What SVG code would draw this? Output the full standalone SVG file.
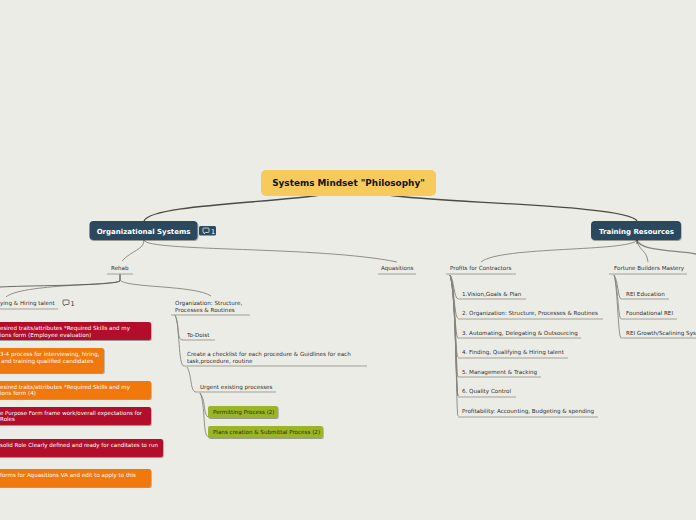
<svg xmlns="http://www.w3.org/2000/svg" width="696" height="520" viewBox="0 0 696 520">
<defs>
<filter id="sh" x="-5%" y="-10%" width="110%" height="130%"><feDropShadow dx="0.6" dy="1" stdDeviation="0.5" flood-color="#000" flood-opacity="0.35"/></filter>
<path id="bub" d="M0.8 0H5.2Q6 0 6 .8V3.7Q6 4.500 5.200 4.500H2.500L1 5.800V4.500H.8Q0 4.500 0 3.700V.8Q0 0 .8 0Z" fill="none" stroke-width=".7"/>
</defs>
<style>
text{font-family:"DejaVu Sans",Verdana,sans-serif;font-size:5.6px;fill:#2f2f2f}
.ln{fill:none;stroke:#85857c;stroke-width:0.9}
.ul{fill:none;stroke:#a0a098;stroke-width:1}
.dk{fill:none;stroke:#4a4a46;stroke-width:1.3}
.w{fill:#fff}
.red{fill:#b20a2c;filter:url(#sh)}
.org{fill:#f0780f;filter:url(#sh)}
.grn{fill:#9bb528;filter:url(#sh)}
.navy{fill:#2a4a5f;filter:url(#sh)}
.g{fill:#26300a}
</style>
<rect width="696" height="520" fill="#ecece6"/>
<g id="connectors">
<path class="dk" d="M320 195 C270 203 150 205 144 221"/>
<path class="dk" d="M388 195 C440 203 630 205 637 221"/>
<path class="ln" d="M144 240 C144 250 132 250 122 261"/>
<path class="ln" d="M144 240 C146 252 320 246 397 262"/>
<path class="ln" d="M120 274 V281 C118 285 20 284 6 297"/>
<path class="dk" d="M120 274 V281 C110 286 40 285 0 287" style="stroke-width:.8"/>
<path class="ln" d="M120 274 V280 C125 288 195 285 211 296"/>
<path class="ln" d="M637 240 C630 252 500 246 481 262"/>
<path class="ln" d="M637 240 C638 250 647 250 648 262"/>
<path class="ln" d="M637 240 C640 252 680 250 696 254" style="stroke-width:1.4"/>
<path class="dk" d="M637 240V244" style="stroke-width:1"/>
<path class="ln" d="M175 315 C180 325 176 340 183 340"/>
<path class="ln" d="M175 315 C180 325 178 366 184 366"/>
<path class="ln" d="M187 367 C192 375 190 392 196 392"/>
<path class="ln" d="M200 393 C206 400 203 417 209 417"/>
<path class="ln" d="M200 393 C206 405 202 437 209 437"/>
<path class="dk" d="M450 275 C456 285 455 380 458 396" style="stroke-width:.8"/>
<path class="ln" d="M450 275 C454 280 454 298 458 299"/>
<path class="ln" d="M450 275 C454 280 454 318 458 318"/>
<path class="ln" d="M450 275 C454 285 455 338 458 338"/>
<path class="ln" d="M450 275 C455 290 455 357 458 357"/>
<path class="ln" d="M450 275 C456 290 456 376 458 377"/>
<path class="ln" d="M450 275 C456 290 456 396 458 396"/>
<path class="ln" d="M450 275 C457 300 456 416 458 416"/>
<path class="ln" d="M614 275 C618 280 618 298 621 299"/>
<path class="ln" d="M614 275 C618 285 618 318 621 319"/>
<path class="ln" d="M614 275 C618 290 618 338 621 338"/>
</g>
<g id="root"><rect x="261" y="170" width="175" height="26" rx="5" fill="#f6cb5b"/><text x="348.500" y="186" text-anchor="middle" style="font-size:8.900px;font-weight:700;fill:#111">Systems Mindset "Philosophy"</text></g>
<g id="org-systems"><rect class="navy" x="89.500" y="221" width="108" height="19" rx="4"/><text class="w" x="143.500" y="233.500" text-anchor="middle" style="font-size:7px;font-weight:700">Organizational Systems</text></g>
<g id="org-comment"><rect x="199" y="226" width="17" height="9.500" rx="1.500" fill="#2a4a5f"/><use href="#bub" x="203" y="228" stroke="#fff"/><text class="w" x="211" y="233.500" style="font-size:6.500px">1</text></g>
<g id="training"><rect class="navy" x="591" y="221" width="90" height="19" rx="4"/><text class="w" x="636.500" y="233.500" text-anchor="middle" style="font-size:7px;font-weight:700">Training Resources</text></g>
<g id="rehab"><text x="111" y="270">Rehab</text><path class="ul" d="M107 274H133"/></g>
<g id="aquasitions"><text x="381" y="270">Aquasitions</text><path class="ul" d="M378 274H416"/></g>
<g id="hiring"><text x="0" y="305">ying &amp; Hiring talent</text><path class="ul" d="M0 309H58"/></g>
<g id="hiring-comment"><use href="#bub" x="63" y="300" stroke="#333"/><text x="70.500" y="305.500" style="font-size:6.500px">1</text></g>
<g id="r1"><rect class="red" x="-10" y="322" width="161" height="18" rx="2"/><text class="w" x="0" y="330" textLength="130" lengthAdjust="spacingAndGlyphs">esired traits/attributes *Required Skills and my</text><text class="w" x="0" y="337">ions form (Employee evaluation)</text></g>
<g id="o1"><rect class="org" x="-10" y="348" width="114" height="25" rx="2"/><text class="w" x="0" y="356">3-4 process for interviewing, hiring,</text><text class="w" x="1" y="363">and training qualified candidates</text></g>
<g id="o2"><rect class="org" x="-10" y="381" width="161" height="18" rx="2"/><text class="w" x="0" y="389" textLength="130" lengthAdjust="spacingAndGlyphs">esired traits/attributes *Required Skills and my</text><text class="w" x="0" y="395">ions form (4)</text></g>
<g id="r2"><rect class="red" x="-10" y="407" width="161" height="18" rx="2"/><text class="w" x="0" y="415" textLength="142" lengthAdjust="spacingAndGlyphs">e Purpose Form frame work/overall expectations for</text><text class="w" x="0" y="421">Roles</text></g>
<g id="r3"><rect class="red" x="-10" y="439" width="173" height="18" rx="2"/><text class="w" x="0" y="447" textLength="158" lengthAdjust="spacingAndGlyphs">solid Role Clearly defined and ready for canditates to run</text></g>
<g id="o3"><rect class="org" x="-10" y="469" width="161" height="18" rx="2"/><text class="w" x="0" y="477" textLength="136" lengthAdjust="spacingAndGlyphs">forms for Aquasitions VA and edit to apply to this</text></g>
<g id="org-struct"><text x="175" y="305">Organization: Structure,</text><text x="175" y="311.500">Processes &amp; Routines</text><path class="ul" d="M171 315H250"/></g>
<g id="todoist"><text x="187" y="337">To-Doist</text><path class="ul" d="M183 340H215"/></g>
<g id="checklist"><text x="187" y="356">Create a checklist for each procedure &amp; Guidlines for each</text><text x="187" y="363">task,procedure, routine</text><path class="ul" d="M184 366H367"/></g>
<g id="urgent"><text x="200" y="389">Urgent existing processes</text><path class="ul" d="M196 392H276"/></g>
<g id="permit"><rect class="grn" x="208" y="406" width="70" height="12" rx="2"/><text class="g" x="213" y="414">Permitting Process (2)</text></g>
<g id="plans"><rect class="grn" x="208" y="426" width="115" height="12" rx="2"/><text class="g" x="213" y="434">Plans creation &amp; Submittal Process (2)</text></g>
<g id="profits"><text x="450" y="270">Profits for Contractors</text><path class="ul" d="M446 274H516"/></g>
<g id="p1"><text x="462" y="296">1.Vision,Goals &amp; Plan</text><path class="ul" d="M458 299H526"/></g>
<g id="p2"><text x="462" y="315">2. Organization: Structure, Processes &amp; Routines</text><path class="ul" d="M458 319H603"/></g>
<g id="p3"><text x="462" y="335">3. Automating, Delegating &amp; Outsourcing</text><path class="ul" d="M458 338H581"/></g>
<g id="p4"><text x="462" y="354">4. Finding, Qualifying &amp; Hiring talent</text><path class="ul" d="M458 358H568"/></g>
<g id="p5"><text x="462" y="374">5. Management &amp; Tracking</text><path class="ul" d="M458 377H541"/></g>
<g id="p6"><text x="462" y="393">6. Quality Control</text><path class="ul" d="M458 397H516"/></g>
<g id="p7"><text x="462" y="413">Profitability: Accounting, Budgeting &amp; spending</text><path class="ul" d="M458 417H598"/></g>
<g id="fortune"><text x="614" y="270">Fortune Builders Mastery</text><path class="ul" d="M609 274H687"/></g>
<g id="f1"><text x="626" y="296">REI Education</text><path class="ul" d="M621 299H669"/></g>
<g id="f2"><text x="626" y="315">Foundational REI</text><path class="ul" d="M621 319H677"/></g>
<g id="f3"><text x="626" y="335">REI Growth/Scalining Sys</text><path class="ul" d="M621 338H696"/></g>
</svg>
